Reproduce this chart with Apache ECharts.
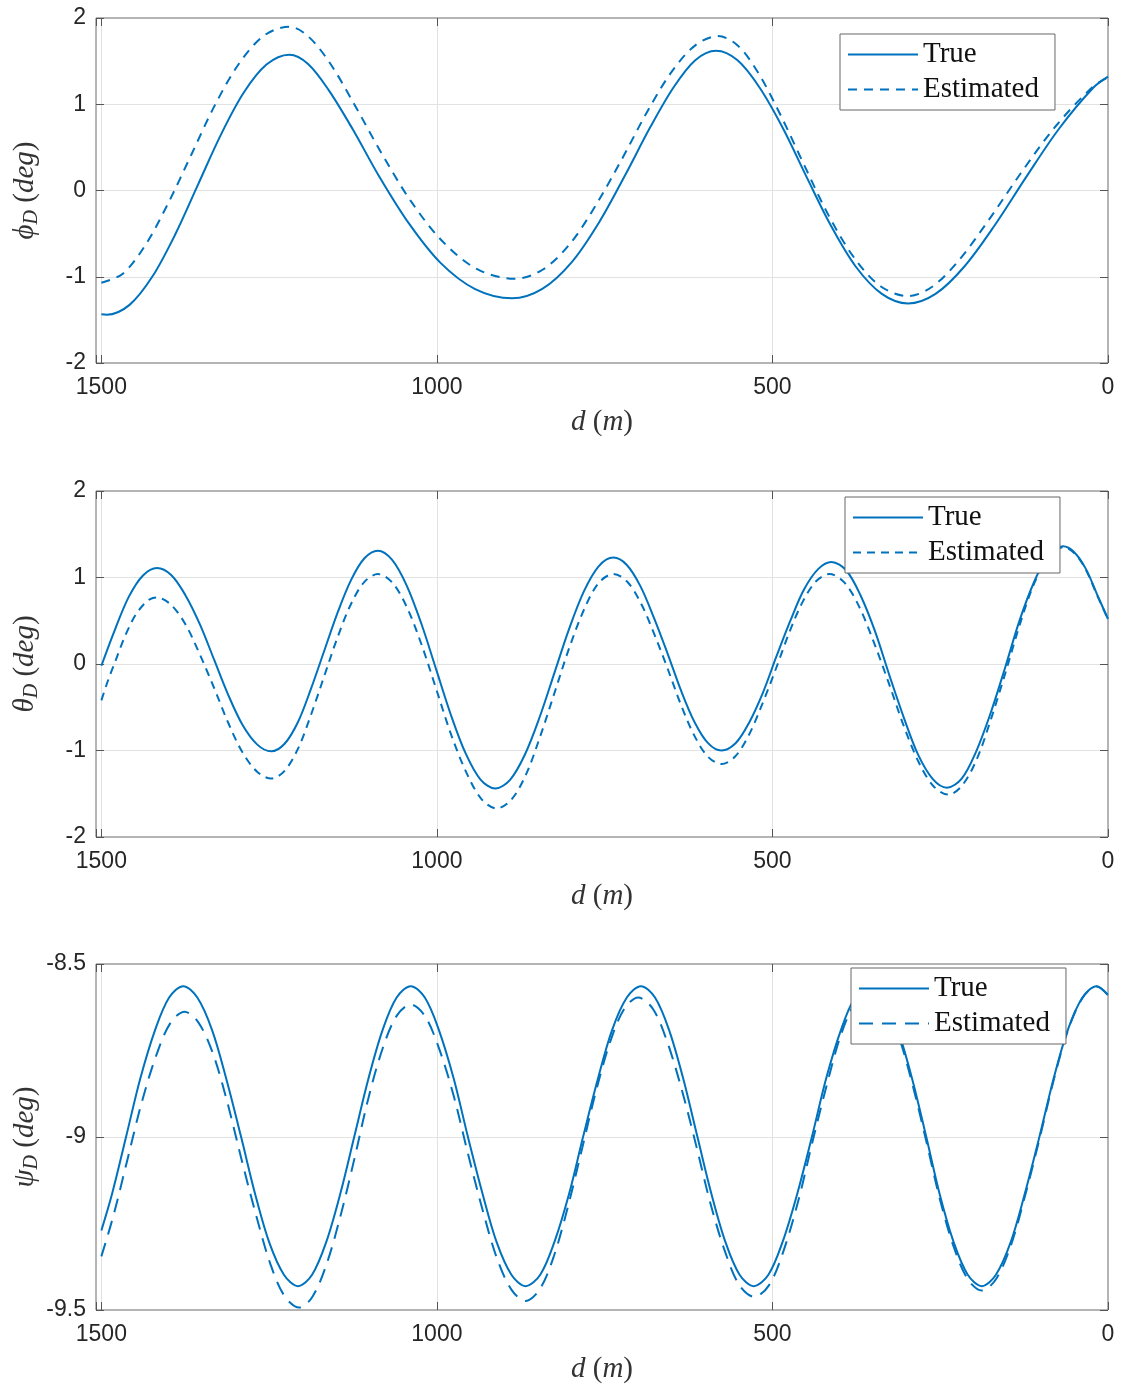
<!DOCTYPE html>
<html><head><meta charset="utf-8">
<script src="https://cdn.jsdelivr.net/npm/echarts@6/dist/echarts.min.js"></script>
<style>html,body{margin:0;padding:0;background:#fff}#c{width:1122px;height:1387px}</style>
</head><body><div id="c"></div>
<script>
// ---- tick labels ----
const xTicks = [0, 500, 1000, 1500];
const xMax = 1508;

// ---- phi_D (deg) : [d (m), value] ----
const phiTrue = [[1500,-1.435],[1492,-1.44],[1458,-1.326],[1424,-0.998],[1390,-0.51],[1356,0.068],[1322,0.645],[1288,1.133],[1254,1.46],[1220,1.575],
  [1192,1.468],[1161,1.161],[1125,0.704],[1086,0.163],[1042,-0.379],[995,-0.836],[943,-1.143],[888,-1.25],
  [843,-1.141],[799,-0.83],[758,-0.365],[719,0.185],[682,0.735],[647,1.20],[615,1.511],[584,1.62],
  [552,1.509],[519,1.191],[484,0.716],[449,0.155],[413,-0.406],[376,-0.881],[337,-1.199],[298,-1.31],
  [257,-1.199],[214,-0.881],[169,-0.406],[122,0.155],[73,0.716],[22,1.191],[0,1.32]];
const phiEst = [[1500,-1.07],[1468,-0.964],[1435,-0.64],[1401,-0.157],[1366,0.415],[1331,0.987],[1295,1.47],[1258,1.794],[1220,1.90],
  [1192,1.789],[1159,1.472],[1123,0.998],[1083,0.4385],[1039,-0.121],[991,-0.595],[940,-0.912],[884,-1.023],
  [842,-0.916],[801,-0.611],[762,-0.155],[723,0.3835],[686,0.922],[650,1.378],[615,1.683],[581,1.79],
  [551,1.676],[520,1.348],[487,0.86],[452,0.283],[416,-0.294],[378,-0.782],[339,-1.11],[298,-1.224],
  [262,-1.116],[222,-0.807],[178,-0.345],[130,0.2],[78,0.745],[22,1.207],[0,1.31]];

// ---- theta_D (deg) ----
const thetaTrue = [[1500,-0.02],[1479,0.413],[1459,0.779],[1438,1.024],[1417,1.11],
  [1396,1.029],[1375,0.799],[1353,0.456],[1332,0.05],[1311,-0.356],[1290,-0.699],[1268,-0.929],[1247,-1.01],
  [1227,-0.922],[1207,-0.67],[1188,-0.294],[1168,0.15],[1148,0.594],[1128,0.97],[1108,1.222],[1088,1.31],
  [1067,1.206],[1045,0.907],[1023,0.462],[1001,-0.065],[979,-0.592],[957,-1.037],[935,-1.336],[913,-1.44],
  [891,-1.339],[869,-1.049],[847,-0.616],[825,-0.105],[803,0.406],[781,0.839],[759,1.129],[737,1.23],
  [717,1.145],[697,0.903],[677,0.542],[656,0.115],[636,-0.312],[616,-0.673],[596,-0.915],[576,-1.0],
  [555,-0.917],[535,-0.681],[514,-0.327],[494,0.09],[473,0.507],[453,0.861],[432,1.097],[412,1.18],
  [390,1.081],[369,0.798],[347,0.375],[326,-0.125],[304,-0.625],[283,-1.048],[261,-1.331],[240,-1.43],
  [218,-1.324],[197,-1.021],[175,-0.569],[153,-0.035],[132,0.499],[110,0.951],[89,1.254],[67,1.36],
  [50,1.29],[33,1.10],[16,0.80],[0,0.52]];
const thetaEst = [[1500,-0.42],[1490,-0.188],[1479,0.036],[1469,0.242],[1459,0.421],[1449,0.569],[1438,0.679],[1428,0.747],[1418,0.77],
  [1397,0.69],[1375,0.463],[1354,0.123],[1332,-0.2775],[1311,-0.679],[1290,-1.018],[1268,-1.245],[1247,-1.325],
  [1227,-1.235],[1207,-0.979],[1188,-0.595],[1168,-0.1425],[1148,0.31],[1128,0.694],[1108,0.95],[1088,1.04],
  [1066,0.937],[1044,0.643],[1022,0.204],[1000,-0.315],[978,-0.834],[955,-1.273],[933,-1.567],[911,-1.67],
  [889,-1.567],[867,-1.273],[846,-0.834],[824,-0.315],[802,0.204],[780,0.643],[759,0.937],[737,1.04],
  [717,0.957],[697,0.718],[677,0.363],[656,-0.058],[636,-0.479],[616,-0.834],[596,-1.073],[576,-1.156],
  [556,-1.073],[536,-0.834],[516,-0.479],[495,-0.058],[475,0.363],[455,0.718],[435,0.957],[415,1.04],
  [393,0.943],[371,0.666],[349,0.253],[326,-0.235],[304,-0.723],[282,-1.136],[260,-1.413],[238,-1.51],
  [217,-1.401],[195,-1.091],[174,-0.628],[152,-0.08],[131,0.467],[110,0.931],[88,1.241],[67,1.35],
  [50,1.28],[33,1.09],[16,0.79],[0,0.52]];

// ---- psi_D (deg) ----
const psiTrue = [[1500,-9.27],[1484,-9.164],[1463,-8.998],[1442,-8.831],[1420,-8.691],[1399,-8.597],[1378,-8.564],
  [1357,-8.597],[1335,-8.691],[1314,-8.831],[1292,-8.998],[1271,-9.164],[1250,-9.304],[1228,-9.398],[1207,-9.431],
  [1186,-9.398],[1165,-9.304],[1144,-9.164],[1123,-8.998],[1102,-8.831],[1081,-8.691],[1060,-8.597],[1039,-8.564],
  [1018,-8.597],[997,-8.691],[975,-8.831],[954,-8.998],[932,-9.164],[911,-9.304],[889,-9.398],[868,-9.431],
  [846,-9.398],[825,-9.304],[803,-9.164],[782,-8.998],[760,-8.831],[739,-8.691],[717,-8.597],[696,-8.564],
  [675,-8.597],[654,-8.691],[633,-8.831],[612,-8.998],[591,-9.164],[570,-9.304],[549,-9.398],[528,-9.431],
  [506,-9.398],[485,-9.304],[463,-9.164],[441,-8.998],[420,-8.831],[398,-8.691],[377,-8.597],[355,-8.564],
  [334,-8.597],[313,-8.691],[292,-8.831],[271,-8.998],[251,-9.164],[230,-9.304],[209,-9.398],[188,-9.431],
  [167,-9.398],[145,-9.304],[124,-9.164],[102,-8.998],[81,-8.831],[60,-8.691],[38,-8.597],[17,-8.564],[0,-8.589]];
const psiEst = [[1500,-9.345],[1482,-9.227],[1461,-9.064],[1440,-8.901],[1418,-8.763],[1397,-8.67],[1376,-8.638],
  [1355,-8.67],[1333,-8.763],[1312,-8.902],[1291,-9.066],[1269,-9.229],[1248,-9.368],[1227,-9.46],[1205,-9.493],
  [1185,-9.46],[1164,-9.365],[1143,-9.223],[1122,-9.055],[1102,-8.887],[1081,-8.745],[1060,-8.65],[1039,-8.617],
  [1018,-8.65],[997,-8.743],[975,-8.881],[954,-9.046],[932,-9.21],[911,-9.348],[889,-9.441],[868,-9.474],
  [847,-9.441],[826,-9.346],[805,-9.203],[784,-9.036],[763,-8.868],[742,-8.726],[721,-8.63],[700,-8.597],
  [678,-8.63],[657,-8.724],[635,-8.864],[613,-9.03],[592,-9.195],[570,-9.335],[549,-9.429],[527,-9.462],
  [505,-9.428],[484,-9.332],[462,-9.188],[441,-9.019],[419,-8.849],[398,-8.705],[376,-8.609],[355,-8.575],
  [334,-8.608],[313,-8.702],[292,-8.843],[271,-9.01],[251,-9.176],[230,-9.317],[209,-9.411],[188,-9.444],
  [167,-9.411],[145,-9.315],[124,-9.173],[102,-9.005],[81,-8.836],[60,-8.694],[38,-8.598],[17,-8.565],[0,-8.59]];

const legendNames = ['True', 'Estimated'];

const chart = echarts.init(document.getElementById('c'), null, {renderer: 'canvas'});
const BLUE = '#0072BD';
const SERIF = "'Liberation Serif', 'DejaVu Serif', serif";
const SANS = "'Liberation Sans', Arial, sans-serif";
const gridDefs = [{top: 18, height: 345}, {top: 491, height: 346}, {top: 964, height: 346}];
const yRanges = [{min: -2, max: 2, interval: 1}, {min: -2, max: 2, interval: 1}, {min: -9.5, max: -8.5, interval: 0.5}];
const greek = ['ϕ', 'θ', 'ψ'];
const legendPos = [{left: 840, top: 34}, {left: 845, top: 497}, {left: 851, top: 968}];
const dashes = [[9, 7], [8, 6], [14, 9]];
const data = [[phiTrue, phiEst], [thetaTrue, thetaEst], [psiTrue, psiEst]];

const nameRich = {
  i: {fontFamily: SERIF, fontStyle: 'italic', fontSize: 29, color: '#333'},
  r: {fontFamily: SERIF, fontSize: 29, color: '#333'},
  s: {fontFamily: SERIF, fontStyle: 'italic', fontSize: 20, color: '#333', padding: [13, 0, 0, 0]}
};

const grid = [], xAxis = [], yAxis = [], series = [], legend = [];
for (let k = 0; k < 3; k++) {
  grid.push({left: 96, right: 14, top: gridDefs[k].top, height: gridDefs[k].height,
    show: true, borderColor: '#6a6a6a', borderWidth: 1, backgroundColor: '#fff',
    containLabel: false, outerBoundsMode: 'none'});
}
const tickStyle = {inside: true, length: 8, lineStyle: {color: '#555', width: 1}};
const noLine = {show: false, onZero: false};
for (let k = 0; k < 3; k++) {
  xAxis.push({
    gridIndex: k, type: 'value', inverse: true, min: 0, max: xMax, interval: 500, position: 'bottom',
    axisLine: noLine, axisTick: tickStyle,
    axisLabel: {margin: 13, fontSize: 23, color: '#262626', fontFamily: SANS,
      formatter: v => (xTicks.indexOf(v) >= 0 ? String(v) : '')},
    splitLine: {show: true, showMinLine: false, showMaxLine: false, lineStyle: {color: '#e2e2e2', width: 1}},
    name: '{i|d}{r| (}{i|m}{r|)}', nameLocation: 'middle', nameGap: 45, nameMoveOverlap: false,
    nameTextStyle: {fontFamily: SERIF, fontSize: 29, color: '#333', rich: nameRich}
  });
  yAxis.push({
    gridIndex: k, type: 'value', min: yRanges[k].min, max: yRanges[k].max, interval: yRanges[k].interval,
    position: 'left', axisLine: noLine, axisTick: tickStyle,
    axisLabel: {margin: 10, fontSize: 23, color: '#262626', fontFamily: SANS},
    splitLine: {show: true, showMinLine: false, showMaxLine: false, lineStyle: {color: '#e2e2e2', width: 1}},
    name: '{i|' + greek[k] + '}{s|D}{r| (}{i|deg}{r|)}', nameLocation: 'middle', nameRotate: 90,
    nameGap: 54, nameMoveOverlap: false,
    nameTextStyle: {fontFamily: SERIF, fontSize: 29, color: '#333', rich: nameRich}
  });
}
for (let k = 0; k < 3; k++) {
  xAxis.push({
    gridIndex: k, type: 'value', inverse: true, min: 0, max: xMax, interval: 500, position: 'top',
    axisLine: noLine, axisTick: tickStyle, axisLabel: {show: false}, splitLine: {show: false}
  });
  yAxis.push({
    gridIndex: k, type: 'value', min: yRanges[k].min, max: yRanges[k].max, interval: yRanges[k].interval,
    position: 'right', axisLine: noLine, axisTick: tickStyle, axisLabel: {show: false}, splitLine: {show: false}
  });
}
for (let k = 0; k < 3; k++) {
  const tName = legendNames[0] + '#' + k, eName = legendNames[1] + '#' + k;
  series.push({
    name: tName, type: 'line', xAxisIndex: k, yAxisIndex: k, data: data[k][0],
    showSymbol: false, symbol: 'none', smooth: 0.33, smoothConstraint: false,
    lineStyle: {color: BLUE, width: 2}, itemStyle: {color: BLUE},
    z: 3, silent: true
  });
  series.push({
    name: eName, type: 'line', xAxisIndex: k, yAxisIndex: k, data: data[k][1],
    showSymbol: false, symbol: 'none', smooth: 0.33, smoothConstraint: false,
    lineStyle: {color: BLUE, width: 2, type: dashes[k]}, itemStyle: {color: BLUE},
    z: 4, silent: true
  });
  legend.push({
    data: [tName, eName], orient: 'vertical', left: legendPos[k].left, top: legendPos[k].top,
    itemWidth: 70, itemHeight: 20, itemGap: 2, padding: [4, 16, 4, 7],
    backgroundColor: '#fff', borderColor: '#666', borderWidth: 1, borderRadius: 0,
    selectedMode: false, z: 10,
    itemStyle: {opacity: 0, borderWidth: 0},
    formatter: n => n.split('#')[0],
    textStyle: {fontFamily: SERIF, fontSize: 29, color: '#111', lineHeight: 33}
  });
}

chart.setOption({animation: false, backgroundColor: '#fff', grid, xAxis, yAxis, series, legend});
</script></body></html>
